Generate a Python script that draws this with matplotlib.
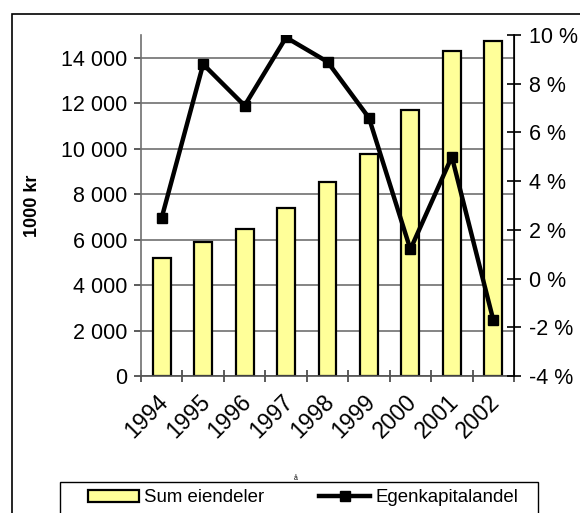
import matplotlib.pyplot as plt
from matplotlib.patches import Rectangle
from matplotlib.ticker import FixedLocator, FuncFormatter
from matplotlib.transforms import ScaledTranslation

plt.rcParams['font.family'] = ['Liberation Sans', 'DejaVu Sans']

# data
years = ['1994', '1995', '1996', '1997', '1998', '1999', '2000', '2001', '2002']
sum_eiendeler = [5200, 5900, 6450, 7400, 8550, 9750, 11700, 14300, 14750]
egenkapitalandel = [2.5, 8.8, 7.1, 9.9, 8.9, 6.6, 1.2, 5.0, -1.7]

W, H = 580, 513
fig = plt.figure(figsize=(W / 100, H / 100), dpi=100)
ax = fig.add_axes([141 / W, 1 - 376 / H, (514 - 141) / W, (376 - 35) / H])
ax2 = ax.twinx()

x = range(len(years))
ax.bar(x, sum_eiendeler, width=0.43, color='#FFFF99', edgecolor='black',
       linewidth=1.6, label='Sum eiendeler', zorder=2)
ax2.plot(x, egenkapitalandel, color='black', linewidth=3.2, marker='s',
         markersize=7, label='Egenkapitalandel')

ax.set_xlim(-0.5, len(years) - 0.5)
ax.set_ylim(0, 15000)
ax2.set_ylim(-4, 10)

ax.set_yticks(range(0, 15000, 2000))
ax.yaxis.set_major_formatter(FuncFormatter(lambda v, p: f'{int(v):,}'.replace(',', ' ')))
ax2.set_yticks(range(-4, 11, 2))
ax2.yaxis.set_major_formatter(FuncFormatter(lambda v, p: f'{int(v)} %'))

ax.set_axisbelow(True)
ax.yaxis.grid(True, color='#707070', linewidth=1.2)

fs = 15.5
ax.set_xticks(list(x))
ax.set_xticklabels(years, rotation=45, ha='right', va='top', rotation_mode='anchor')
ax.xaxis.set_minor_locator(FixedLocator([i - 0.5 for i in range(len(years) + 1)]))
ax.tick_params(axis='x', which='major', length=0, pad=10, labelsize=16.5)
ax.tick_params(axis='x', which='minor', direction='inout', length=9, color='#404040', width=1.2)
ax.tick_params(axis='y', direction='out', length=5, color='#404040', width=1.2, labelsize=fs, pad=5)
ax2.tick_params(axis='y', direction='inout', length=10, width=1.2, labelsize=fs, pad=6)
shift = ScaledTranslation(-5 / 100, 0, fig.dpi_scale_trans)
for lbl in ax.get_xticklabels():
    lbl.set_transform(lbl.get_transform() + shift)

for a in (ax, ax2):
    a.spines['top'].set_visible(False)
ax.spines['left'].set_color('#707070')
ax.spines['bottom'].set_color('#505050')
ax.spines['left'].set_linewidth(1.2)
ax.spines['bottom'].set_linewidth(1.2)
ax2.spines['left'].set_visible(False)
ax2.spines['bottom'].set_visible(False)
ax2.spines['right'].set_linewidth(1.2)

ax.set_ylabel('1000 kr', fontsize=13, fontweight='bold')
ax.yaxis.set_label_coords(-100 / (514 - 141), 0.5)

# outer chart border (runs off the right and bottom edges)
fig.patches.append(Rectangle((12 / W, -0.2), 1.2, 1 - 14 / H + 0.2,
                             transform=fig.transFigure, fill=False,
                             edgecolor='black', linewidth=1.2))
# legend frame (also cut off at the bottom)
fig.patches.append(Rectangle((60 / W, -0.2), (538 - 60) / W, 1 - 482 / H + 0.2,
                             transform=fig.transFigure, fill=False,
                             edgecolor='black', linewidth=1.0))
fig.text(296 / W, 1 - 479 / H, 'å', fontsize=5, ha='center', va='center')

h1, l1 = ax.get_legend_handles_labels()
h2, l2 = ax2.get_legend_handles_labels()
fig.legend(h1 + h2, l1 + l2, loc='center left', bbox_to_anchor=(88 / W, 1 - 498 / H),
           ncol=2, frameon=False, fontsize=13.4, handlelength=2.75, handleheight=0.65,
           handletextpad=0.27, columnspacing=2.95, borderaxespad=0, borderpad=0)

fig.savefig('out.png', dpi=100)
